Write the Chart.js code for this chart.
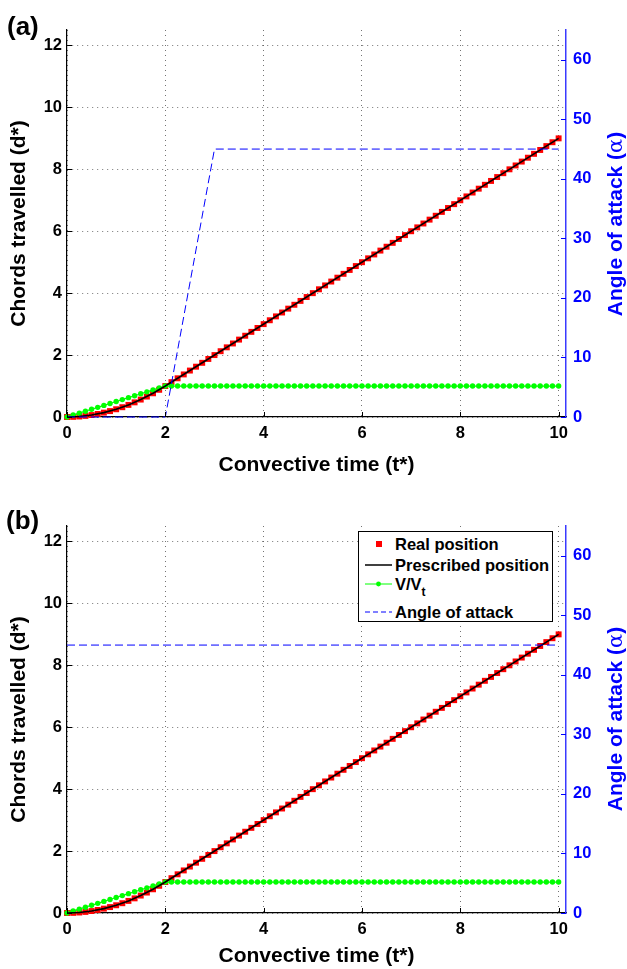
<!DOCTYPE html>
<html>
<head>
<meta charset="utf-8">
<script src="https://cdn.jsdelivr.net/npm/chart.js@4.4.1/dist/chart.umd.min.js"></script>
<style>
html,body{margin:0;padding:0;background:#fff;}
#wrap{position:relative;width:627px;height:969px;overflow:hidden;font-family:"Liberation Sans",Arial,Helvetica,sans-serif;font-weight:bold;}
#wrap canvas{position:absolute;left:0;}
.plabel{position:absolute;font-size:26px;line-height:1;color:#000;}
.rtitle{position:absolute;color:#0000ff;font-size:21px;white-space:nowrap;line-height:1;transform:translate(-50%,-50%) rotate(-90deg);}
.rtitle .al{font-family:"DejaVu Serif","Liberation Serif",serif;font-weight:normal;}
.legend{position:absolute;left:358px;top:531px;width:193px;height:89px;border:1px solid #000;background:#fff;}
.legend .row{position:absolute;left:0;height:20px;width:193px;}
.legend .txt{position:absolute;left:36px;top:0;line-height:20px;font-size:16.5px;white-space:nowrap;}
.legend svg{position:absolute;left:6px;top:0;}
</style>
</head>
<body>
<div id="wrap">
  <canvas id="chartA" width="627" height="485" style="top:0;"></canvas>
  <canvas id="chartB" width="627" height="484" style="top:485px;"></canvas>
  <div class="plabel" style="left:7px;top:13px;">(a)</div>
  <div class="plabel" style="left:6px;top:507px;">(b)</div>
  <div class="rtitle" style="left:615px;top:224px;">Angle of attack (<span class="al">α</span>)</div>
  <div class="rtitle" style="left:615px;top:719px;">Angle of attack (<span class="al">α</span>)</div>
  <div class="legend">
    <div class="row" style="top:2px;">
      <svg width="28" height="20"><rect x="11" y="7" width="6" height="6" fill="#ff0000"/></svg>
      <div class="txt">Real position</div>
    </div>
    <div class="row" style="top:23px;">
      <svg width="28" height="20"><line x1="0" y1="10" x2="27" y2="10" stroke="#000" stroke-width="1.5"/></svg>
      <div class="txt">Prescribed position</div>
    </div>
    <div class="row" style="top:42px;">
      <svg width="28" height="20"><line x1="0" y1="10" x2="27" y2="10" stroke="#00ff00" stroke-width="1"/><circle cx="13.5" cy="10" r="2.4" fill="#00ff00"/></svg>
      <div class="txt">V/V<span style="font-size:12px;position:relative;top:6px;">t</span></div>
    </div>
    <div class="row" style="top:70px;">
      <svg width="28" height="20"><line x1="0" y1="10" x2="27" y2="10" stroke="#0000ff" stroke-width="1" stroke-dasharray="5,3"/></svg>
      <div class="txt">Angle of attack</div>
    </div>
  </div>
</div>
<script>
// ---------- data ----------
const xTicks = [0, 2, 4, 6, 8, 10];
const leftTicks = [0, 2, 4, 6, 8, 10, 12];
const rightTicks = [0, 10, 20, 30, 40, 50, 60];

const time = [
  0,0.125,0.25,0.375,0.5,0.625,0.75,0.875,1,1.125,1.25,1.375,1.5,1.625,1.75,1.875,2,
  2.125,2.25,2.375,2.5,2.625,2.75,2.875,3,
  3.125,3.25,3.375,3.5,3.625,3.75,3.875,4,
  4.125,4.25,4.375,4.5,4.625,4.75,4.875,5,
  5.125,5.25,5.375,5.5,5.625,5.75,5.875,6,
  6.125,6.25,6.375,6.5,6.625,6.75,6.875,7,
  7.125,7.25,7.375,7.5,7.625,7.75,7.875,8,
  8.125,8.25,8.375,8.5,8.625,8.75,8.875,9,
  9.125,9.25,9.375,9.5,9.625,9.75,9.875,10
];
const realPosition = [
  0,0.004,0.016,0.035,0.063,0.098,0.141,0.191,0.25,0.316,0.391,0.473,0.563,0.66,0.766,0.879,1,
  1.125,1.25,1.375,1.5,1.625,1.75,1.875,2,
  2.125,2.25,2.375,2.5,2.625,2.75,2.875,3,
  3.125,3.25,3.375,3.5,3.625,3.75,3.875,4,
  4.125,4.25,4.375,4.5,4.625,4.75,4.875,5,
  5.125,5.25,5.375,5.5,5.625,5.75,5.875,6,
  6.125,6.25,6.375,6.5,6.625,6.75,6.875,7,
  7.125,7.25,7.375,7.5,7.625,7.75,7.875,8,
  8.125,8.25,8.375,8.5,8.625,8.75,8.875,9
];
const velocityRatio = [
  0,0.0625,0.125,0.1875,0.25,0.3125,0.375,0.4375,0.5,0.5625,0.625,0.6875,0.75,0.8125,0.875,0.9375,1,
  1,1,1,1,1,1,1,1, 1,1,1,1,1,1,1,1,
  1,1,1,1,1,1,1,1, 1,1,1,1,1,1,1,1,
  1,1,1,1,1,1,1,1, 1,1,1,1,1,1,1,1,
  1,1,1,1,1,1,1,1, 1,1,1,1,1,1,1,1
];
const prescribedTime = [0,0.25,0.5,0.75,1,1.25,1.5,1.75,2,10];
const prescribedPosition = [0,0.016,0.063,0.141,0.25,0.391,0.563,0.766,1,9];

const angleTimeA = [0, 2, 3, 10];
const angleA = [0, 0, 45, 45];
const angleTimeB = [0, 10];
const angleB = [45, 45];

// ---------- helpers ----------
const FONT = '"Liberation Sans", Arial, Helvetica, sans-serif';
const BLUE = '#0000ff';
const toXY = (xs, ys) => xs.map((x, i) => ({x: x, y: ys[i]}));

const inwardTicks = {
  id: 'inwardTicks',
  afterDraw(chart) {
    const {ctx, chartArea, scales} = chart;
    const L = 5;
    ctx.save();
    ctx.lineWidth = 1;
    ctx.strokeStyle = '#000';
    ctx.beginPath();
    scales.x.ticks.forEach(t => {
      const p = Math.round(scales.x.getPixelForValue(t.value)) + 0.5;
      ctx.moveTo(p, chartArea.bottom); ctx.lineTo(p, chartArea.bottom - L);
    });
    scales.y.ticks.forEach(t => {
      const p = Math.round(scales.y.getPixelForValue(t.value)) + 0.5;
      ctx.moveTo(chartArea.left, p); ctx.lineTo(chartArea.left + L, p);
    });
    ctx.stroke();
    ctx.strokeStyle = BLUE;
    ctx.beginPath();
    scales.y1.ticks.forEach(t => {
      const p = Math.round(scales.y1.getPixelForValue(t.value)) + 0.5;
      ctx.moveTo(chartArea.right, p); ctx.lineTo(chartArea.right - L, p);
    });
    ctx.stroke();
    ctx.restore();
  }
};

function buildChart(canvasId, angleTime, angleVals, padTop, xAxisH, xTitlePad) {
  const gridCommon = {color: 'rgba(0,0,0,0.55)', lineWidth: 1, drawTicks: false};
  return new Chart(document.getElementById(canvasId), {
    type: 'line',
    data: {
      datasets: [
        {
          label: 'Angle of attack', data: toXY(angleTime, angleVals), yAxisID: 'y1', order: 0,
          borderColor: BLUE, borderWidth: 1, borderDash: [8, 4], pointRadius: 0, fill: false, clip: false
        },
        {
          label: 'Prescribed position', data: toXY(prescribedTime, prescribedPosition), yAxisID: 'y', order: 1,
          borderColor: '#000', borderWidth: 1.6, pointRadius: 0, fill: false, clip: false
        },
        {
          label: 'V/Vt', data: toXY(time, velocityRatio), yAxisID: 'y', order: 2,
          borderColor: '#00ff00', backgroundColor: '#00ff00', borderWidth: 1.2,
          pointRadius: 2.7, pointBorderWidth: 0, pointStyle: 'circle', fill: false, clip: false
        },
        {
          label: 'Real position', data: toXY(time, realPosition), yAxisID: 'y', order: 3,
          showLine: false, borderColor: '#ff0000', backgroundColor: '#ff0000',
          pointRadius: 4.2, pointBorderWidth: 0, pointStyle: 'rect', clip: false
        }
      ]
    },
    options: {
      responsive: false,
      animation: false,
      devicePixelRatio: 1,
      layout: {padding: {top: padTop, left: 0, right: 0, bottom: 0}},
      plugins: {legend: {display: false}, tooltip: {enabled: false}},
      scales: {
        x: {
          type: 'linear', position: 'bottom', min: 0, max: 10.15,
          afterBuildTicks: s => { s.ticks = xTicks.map(v => ({value: v})); },
          afterFit: s => { s.height = xAxisH; },
          grid: gridCommon,
          border: {display: true, color: '#000', width: 1.2, dash: [1, 4]},
          ticks: {autoSkip: false, maxRotation: 0, padding: 7, color: '#000',
                  font: {family: FONT, size: 16.5, weight: 'bold'}},
          title: {display: true, text: 'Convective time (t*)', color: '#000',
                  font: {family: FONT, size: 21, weight: 'bold'}, padding: {top: 0, bottom: xTitlePad}}
        },
        y: {
          type: 'linear', position: 'left', min: 0, max: 12.5,
          afterBuildTicks: s => { s.ticks = leftTicks.map(v => ({value: v})); },
          afterFit: s => { s.width = 67; },
          grid: gridCommon,
          border: {display: true, color: '#000', width: 1.2, dash: [1, 4]},
          ticks: {autoSkip: false, padding: 5, color: '#000',
                  font: {family: FONT, size: 16.5, weight: 'bold'}},
          title: {display: true, text: 'Chords travelled (d*)', color: '#000',
                  font: {family: FONT, size: 21, weight: 'bold'}, padding: {top: 7, bottom: 0}}
        },
        y1: {
          type: 'linear', position: 'right', min: 0, max: 65,
          afterBuildTicks: s => { s.ticks = rightTicks.map(v => ({value: v})); },
          afterFit: s => { s.width = 61; },
          grid: {display: false, drawTicks: false},
          border: {display: true, color: '#3a3aff', width: 1.5},
          ticks: {autoSkip: false, padding: 7, color: BLUE,
                  font: {family: FONT, size: 16.5, weight: 'bold'}}
        }
      }
    },
    plugins: [inwardTicks]
  });
}

buildChart('chartA', angleTimeA, angleA, 30, 68, 7);
buildChart('chartB', angleTimeB, angleB, 41, 56, 0);
</script>
</body>
</html>
